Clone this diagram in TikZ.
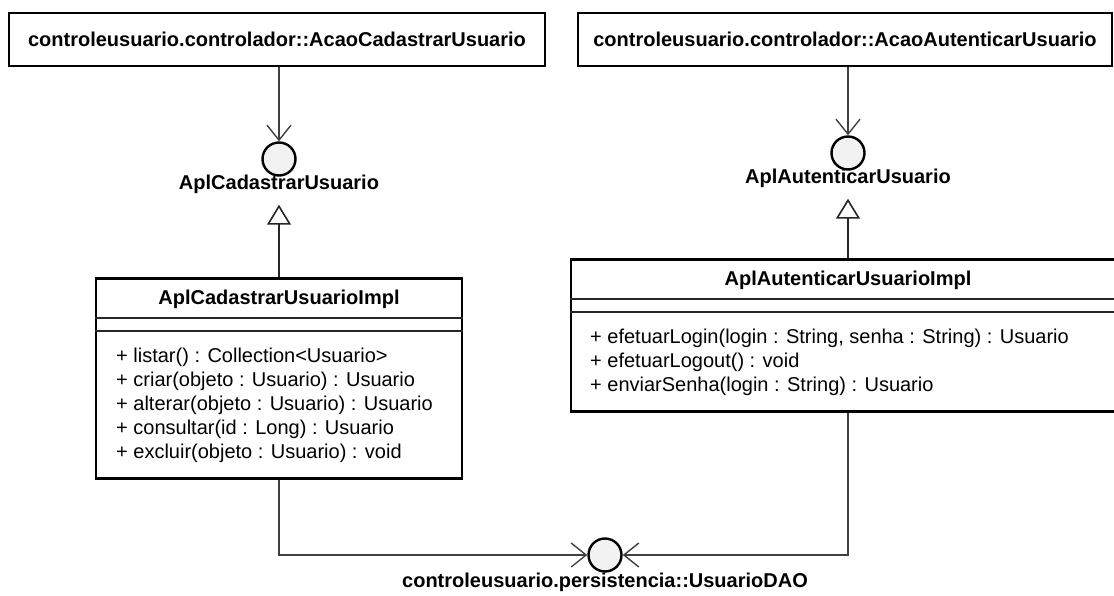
\documentclass[tikz,border=0pt]{standalone}
\usepackage{fontspec}
\setmainfont{Liberation Sans}
\usepackage{tikz}
\usetikzlibrary{arrows.meta, positioning}

\begin{document}
\begin{tikzpicture}[x=1pt, y=-1pt, line join=miter,
    acao/.style={draw, line width=2.8pt, minimum height=53pt, inner sep=0pt, font=\fontsize{20}{24}\selectfont\bfseries},
    classe/.style={draw, line width=2.8pt, anchor=north, inner sep=0pt},
    titulo/.style={inner sep=0pt, font=\fontsize{20}{24}\selectfont\bfseries},
    rotulo/.style={inner sep=0pt, font=\fontsize{20}{24}\selectfont\bfseries},
    metodos/.style={anchor=north west, align=left, inner sep=0pt, font=\fontsize{20}{24}\selectfont},
    sep/.style={line width=2pt, black!85},
    iface/.style={circle, draw, line width=2.4pt, fill=black!5, minimum size=33pt, inner sep=0pt},
    usa/.style={draw=black!75, line width=1.4pt, -{Straight Barb[length=15pt, width=24pt]}},
    realiza/.style={draw=black!85, line width=1.6pt, -{Triangle[open, length=20pt, width=24pt, fill=white]}}]

    \useasboundingbox (0,0) rectangle (1114,596);

    % 顶部的动作类
    \node[acao, minimum width=536pt] (acaoCad) at (277,39.5) {controleusuario.controlador::AcaoCadastrarUsuario};
    \node[acao, minimum width=534pt] (acaoAut) at (845,39.5) {controleusuario.controlador::AcaoAutenticarUsuario};

    % 接口(圆圈)和名字
    \node[iface] (circCad) at (279,159) {};
    \node[rotulo, below=-2pt of circCad] (lblCad) {AplCadastrarUsuario};
    \coordinate[below=11pt of lblCad] (cadTip);
    \node[iface] (circAut) at (848,153) {};
    \node[rotulo, below=-2pt of circAut] (lblAut) {AplAutenticarUsuario};
    \coordinate[below=11pt of lblAut] (autTip);

    % 实现类 AplCadastrarUsuarioImpl
    \node[classe, minimum width=366pt, minimum height=200pt] (cadImpl) at (279,277) {};
    \node[titulo] (cadTitle) at (279,299) {AplCadastrarUsuarioImpl};
    \draw[sep] ([yshift=-41pt]cadImpl.north west) -- ([yshift=-41pt]cadImpl.north east);
    \draw[sep] ([yshift=-54pt]cadImpl.north west) -- ([yshift=-54pt]cadImpl.north east);
    \node[metodos] (cadOps) at (116,348) {+ listar() : Collection<Usuario>\\
        + criar(objeto : Usuario) : Usuario\\
        + alterar(objeto : Usuario) : Usuario\\
        + consultar(id : Long) : Usuario\\
        + excluir(objeto : Usuario) : void};

    % 实现类 AplAutenticarUsuarioImpl
    \node[classe, minimum width=554pt, minimum height=152pt] (autImpl) at (848,258) {};
    \node[titulo] (autTitle) at (848,280) {AplAutenticarUsuarioImpl};
    \draw[sep] ([yshift=-41pt]autImpl.north west) -- ([yshift=-41pt]autImpl.north east);
    \draw[sep] ([yshift=-54pt]autImpl.north west) -- ([yshift=-54pt]autImpl.north east);
    \node[metodos] (autOps) at (590,329) {+ efetuarLogin(login : String, senha : String) : Usuario\\
        + efetuarLogout() : void\\
        + enviarSenha(login : String) : Usuario};

    % 持久层接口
    \node[iface] (dao) at (605,555) {};
    \node[rotulo, below=0pt of dao] (lblDao) {controleusuario.persistencia::UsuarioDAO};

    % 依赖和实现
    \draw[usa] (acaoCad.south -| circCad) -- (circCad);
    \draw[usa] (acaoAut.south -| circAut) -- (circAut);
    \draw[realiza] (cadImpl.north) -- (cadTip);
    \draw[realiza] (autImpl.north) -- (autTip);
    \draw[usa] (cadImpl.south) |- (dao);
    \draw[usa] (autImpl.south) |- (dao);

\end{tikzpicture}
\end{document}
